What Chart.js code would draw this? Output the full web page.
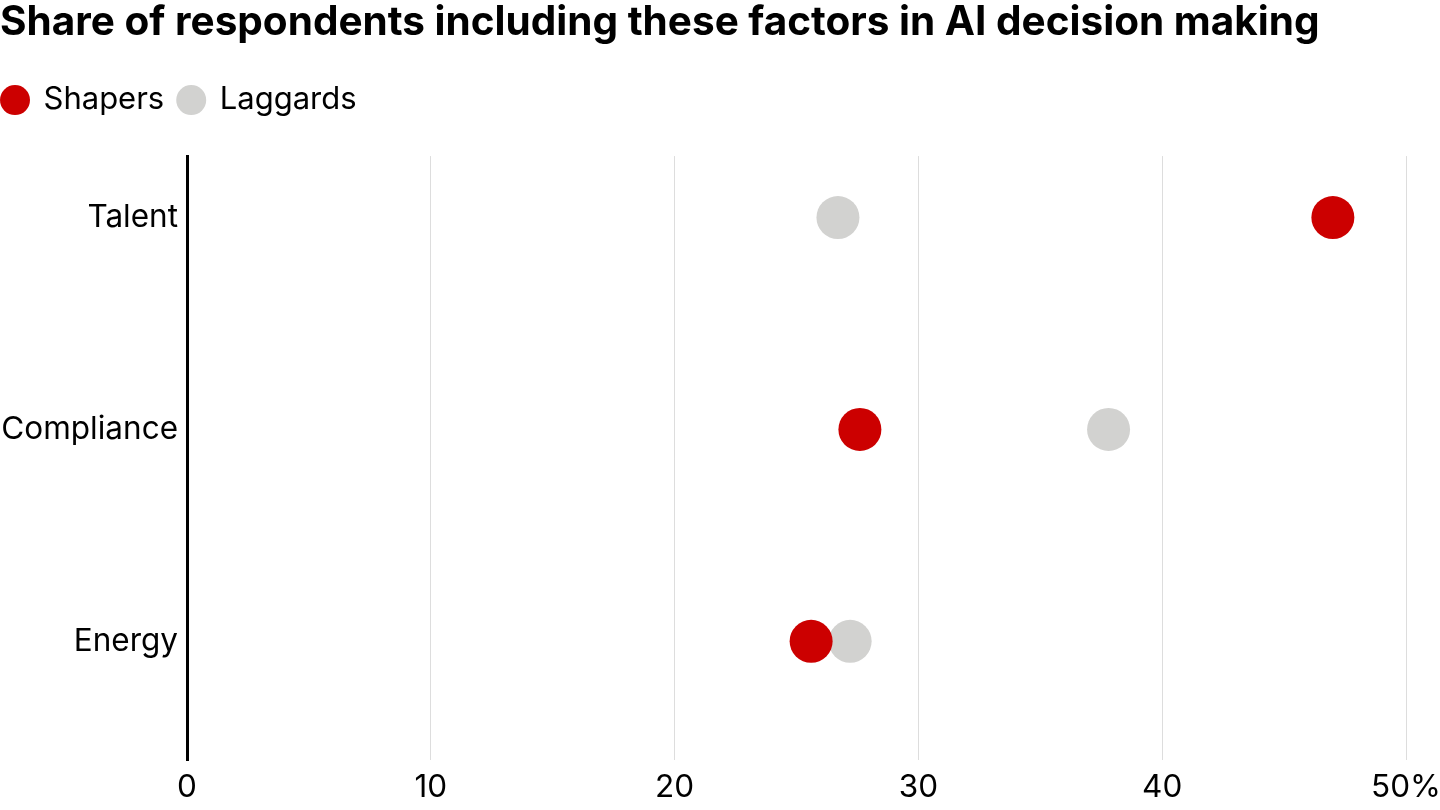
<!DOCTYPE html>
<html>
<head>
<meta charset="utf-8">
<script src="https://cdn.jsdelivr.net/npm/chart.js@4.4.1/dist/chart.umd.min.js"></script>
<style>
	html, body { margin: 0; padding: 0; background: #fff; }
	#wrap { width: 1440px; height: 810px; position: relative; }
</style>
</head>
<body>
<div id="wrap"><canvas id="chart-1"></canvas></div>
<script>
// data
var categories = ['Talent', 'Compliance', 'Energy'];
var shapers = [47.0, 27.6, 25.6];
var laggards = [26.7, 37.8, 27.2];
var xTicks = [0, 10, 20, 30, 40, 50];

var app = (function(){
	var
		fontFamily = 'Inter, "Noto Sans", sans-serif'
		,red = '#cc0000'
		,grey = '#d2d2d0'
		,legendPad = 14;

	// legend: flush left and some room below it
	var legendTweak = {
		id: 'legendTweak',
		afterInit: function(chart){
			var lg = chart.legend;
			var origFit = lg.fit, origDraw = lg.draw;
			lg.fit = function(){
				origFit.apply(this, arguments);
				this.height += 30.5;
			};
			lg.draw = function(){
				this.ctx.save();
				this.ctx.translate(-legendPad + 2, 0);
				origDraw.apply(this, arguments);
				this.ctx.restore();
			};
		}
	};

	function _points(values){
		return values.map(function(v, i){ return {x: v, y: i}; });
	}

	function init(){
		var ctx = document.getElementById('chart-1');
		new Chart(ctx, {
			type: 'scatter',
			data: {
				datasets: [{
					label: 'Shapers',
					data: _points(shapers),
					backgroundColor: red,
					borderWidth: 0,
					pointRadius: 21.5,
					pointHoverRadius: 21.5
				}, {
					label: 'Laggards',
					data: _points(laggards),
					backgroundColor: grey,
					borderWidth: 0,
					pointRadius: 21.5,
					pointHoverRadius: 21.5
				}]
			},
			plugins: [legendTweak],
			options: {
				responsive: true,
				maintainAspectRatio: false,
				animation: false,
				layout: { padding: 0 },
				plugins: {
					tooltip: { enabled: false },
					title: {
						display: true,
						align: 'start',
						text: 'Share of respondents including these factors in AI decision making',
						color: '#000',
						font: { family: fontFamily, size: 40.5, weight: 'bold', lineHeight: 1.15 },
						padding: { top: 0, bottom: 24 }
					},
					legend: {
						display: true,
						align: 'start',
						labels: {
							usePointStyle: true,
							pointStyle: 'circle',
							boxWidth: 26,
							boxHeight: 21.2,
							padding: legendPad,
							color: '#000',
							font: { family: fontFamily, size: 31 }
						}
					}
				},
				scales: {
					x: {
						type: 'linear',
						min: 0,
						max: 50,
						afterBuildTicks: function(scale){
							scale.ticks = xTicks.map(function(v){ return {value: v}; });
						},
						afterFit: function(scale){
							scale.height = 50;
							scale.paddingLeft = 0;
							scale.paddingRight = 34;
						},
						grid: {
							drawTicks: false,
							color: function(c){ return c.tick && c.tick.value === 0 ? 'rgba(0,0,0,0)' : '#dddddd'; },
							lineWidth: 1
						},
						border: { display: false },
						ticks: {
							color: '#000',
							padding: 9,
							maxRotation: 0,
							font: { family: fontFamily, size: 31.5 },
							callback: function(v){ return v === 50 ? v + '%' : v; }
						}
					},
					y: {
						type: 'linear',
						reverse: true,
						min: -0.29,
						max: 2.56,
						afterBuildTicks: function(scale){
							scale.ticks = categories.map(function(c, i){ return {value: i}; });
						},
						afterFit: function(scale){ scale.width = 187; },
						grid: { display: false, drawTicks: false },
						border: { display: true, color: '#000', width: 3 },
						ticks: {
							color: '#000',
							padding: 9,
							font: { family: fontFamily, size: 31.5 },
							callback: function(v){ return categories[v]; }
						}
					}
				}
			}
		});
	}

	return { init: init };
})();
app.init();
</script>
</body>
</html>
